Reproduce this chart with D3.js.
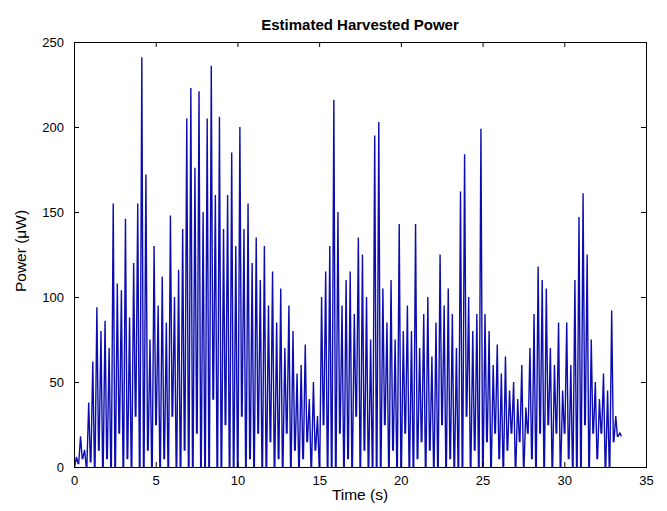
<!DOCTYPE html>
<html>
<head>
<meta charset="utf-8">
<script src="https://d3js.org/d3.v7.min.js"></script>
<style>
  body { margin: 0; background: #fff; }
  svg text { font-family: "Liberation Sans", Arial, sans-serif; }
</style>
</head>
<body>
<svg id="chart" width="667" height="511"></svg>
<script>
// ---- data ----
const title = "Estimated Harvested Power";
const xLabel = "Time (s)";
const yLabel = "Power (\u03BCW)";
const xTicks = [0, 5, 10, 15, 20, 25, 30, 35];
const yTicks = [0, 50, 100, 150, 200, 250];
const cycle = 0.25; // seconds between successive troughs
// peak value of each oscillation (µW)
const peaks = [
  6, 18, 10, 38, 62, 94, 80, 86, 70, 155,
  108, 104, 146, 88, 120, 155, 241, 172, 75, 130,
  95, 112, 85, 148, 100, 116, 140, 205, 223, 176,
  221, 150, 205, 236, 160, 206, 140, 160, 185, 130,
  200, 140, 155, 120, 135, 110, 130, 95, 115, 85,
  105, 70, 95, 80, 55, 60, 72, 40, 50, 30,
  100, 115, 130, 216, 150, 95, 110, 115, 90, 135,
  125, 100, 75, 195, 203, 105, 85, 110, 75, 143,
  80, 95, 80, 143, 70, 90, 100, 65, 85, 125,
  95, 105, 90, 70, 162, 184, 100, 80, 90, 199,
  90, 80, 60, 72, 55, 65, 45, 50, 40, 60,
  35, 70, 90, 118, 110, 105, 70, 60, 85, 45,
  85, 60, 110, 147, 161, 125, 75, 50, 40, 55,
  45, 92, 30, 20
];
// trough value before each oscillation (µW)
const troughs = [
  0, 2, 5, 0, 3, 0, 10, 0, 5, 0,
  0, 20, 0, 5, 0, 30, 0, 0, 10, 0,
  25, 0, 5, 0, 30, 0, 0, 10, 0, 0,
  20, 0, 0, 0, 40, 0, 0, 25, 0, 0,
  0, 30, 0, 5, 0, 20, 0, 0, 15, 0,
  5, 0, 20, 0, 10, 0, 5, 15, 0, 10,
  0, 25, 0, 0, 0, 20, 0, 5, 0, 30,
  0, 10, 0, 0, 0, 0, 25, 0, 10, 0,
  0, 20, 0, 0, 5, 15, 0, 10, 0, 0,
  25, 0, 5, 0, 0, 0, 30, 0, 10, 0,
  0, 15, 0, 20, 5, 0, 10, 20, 0, 15,
  0, 20, 5, 0, 20, 0, 25, 0, 20, 0,
  20, 5, 0, 0, 0, 25, 0, 20, 5, 20,
  0, 0, 15, 18
];
const endValue = 18;

// ---- layout ----
const svg = d3.select("#chart");
const M = { left: 74, right: 646, top: 42, bottom: 467 };

const x = d3.scaleLinear().domain([0, 35]).range([M.left, M.right]);
const y = d3.scaleLinear().domain([0, 250]).range([M.bottom, M.top]);

// build line points from the arrays
const pts = [];
peaks.forEach((p, i) => {
  const t0 = i * cycle;
  pts.push([t0, troughs[i]]);
  pts.push([t0 + cycle * 0.15, troughs[i]]);
  pts.push([t0 + cycle * 0.6, p]);
});
pts.push([peaks.length * cycle, endValue]);

const g = svg.append("g");
g.append("clipPath").attr("id", "clip").append("rect")
  .attr("x", M.left).attr("y", M.top)
  .attr("width", M.right - M.left).attr("height", M.bottom - M.top);

g.append("path")
  .datum(pts)
  .attr("clip-path", "url(#clip)")
  .attr("fill", "none")
  .attr("stroke", "#0c0cb0")
  .attr("stroke-width", 1.4)
  .attr("stroke-linejoin", "miter")
  .attr("d", d3.line().x(d => x(d[0])).y(d => y(d[1])));

// axes (MATLAB-style: ticks inside, box)
const tl = 5;
const bottomAxis = d3.axisBottom(x).tickValues(xTicks).tickSize(-tl).tickPadding(tl + 4).tickFormat(d3.format("d"));
const topAxis = d3.axisTop(x).tickValues(xTicks).tickSize(-tl).tickFormat("");
const leftAxis = d3.axisLeft(y).tickValues(yTicks).tickSize(-tl).tickPadding(tl + 5).tickFormat(d3.format("d"));
const rightAxis = d3.axisRight(y).tickValues(yTicks).tickSize(-tl).tickFormat("");

function style(sel) {
  sel.selectAll("line").attr("stroke", "#000");
  sel.selectAll("text").attr("font-size", 13).attr("fill", "#000")
    .attr("font-family", "'Liberation Sans', Arial, sans-serif");
}
svg.append("g").attr("transform", `translate(0,${M.bottom})`).call(bottomAxis).call(style);
svg.append("g").attr("transform", `translate(0,${M.top})`).call(topAxis).call(style);
svg.append("g").attr("transform", `translate(${M.left},0)`).call(leftAxis).call(style);
svg.append("g").attr("transform", `translate(${M.right},0)`).call(rightAxis).call(style);
svg.selectAll(".domain").remove();
svg.append("rect").attr("x", M.left + 0.5).attr("y", M.top + 0.5)
  .attr("width", M.right - M.left).attr("height", M.bottom - M.top)
  .attr("fill", "none").attr("stroke", "#000").attr("stroke-width", 1);

svg.append("text").attr("x", (M.left + M.right) / 2).attr("y", 30)
  .attr("text-anchor", "middle").attr("font-size", 15).attr("font-weight", "bold")
  .text(title);
svg.append("text").attr("x", (M.left + M.right) / 2).attr("y", 500)
  .attr("text-anchor", "middle").attr("font-size", 15.5).text(xLabel);
svg.append("text").attr("transform", `translate(26,251) rotate(-90)`)
  .attr("text-anchor", "middle").attr("font-size", 15.5).text(yLabel);
</script>
</body>
</html>
